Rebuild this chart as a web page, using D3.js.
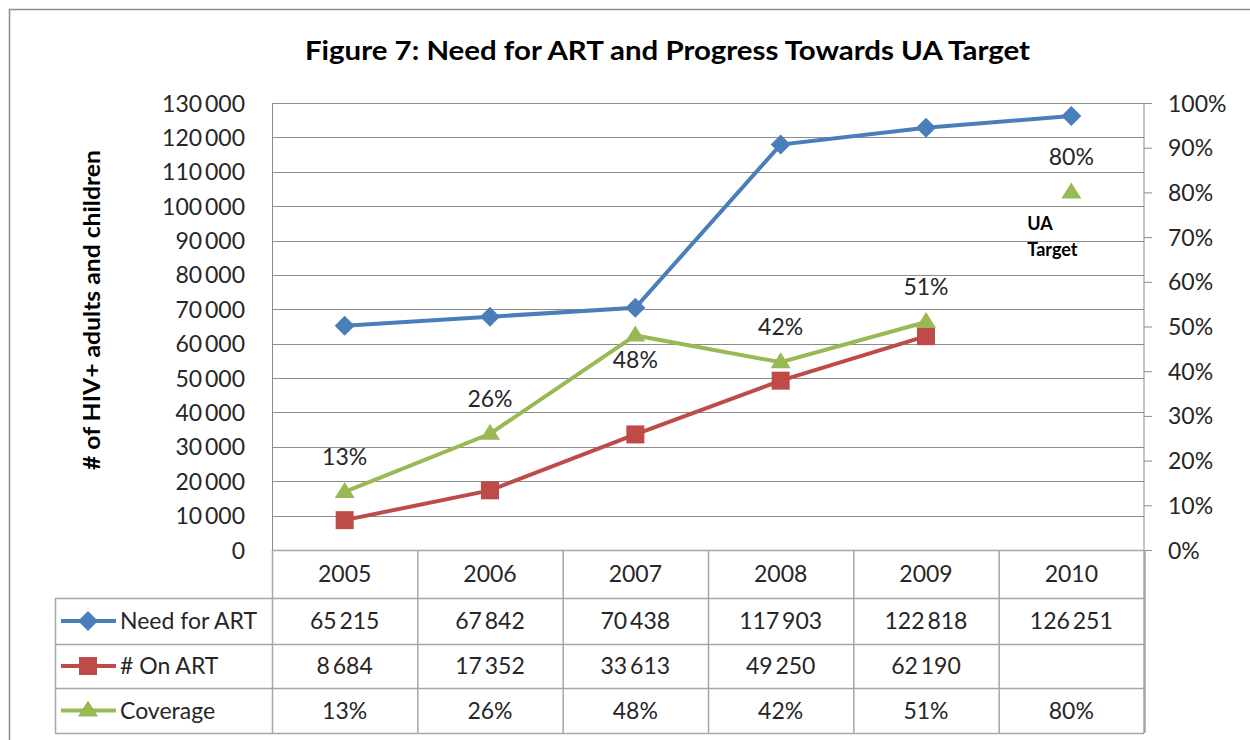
<!DOCTYPE html>
<html>
<head>
<meta charset="utf-8">
<script src="https://cdn.jsdelivr.net/npm/d3@7"></script>
<style>
  body { margin: 0; background: #fff; }
  svg text { font-family: Lato, "Open Sans", sans-serif; fill: #262626; }
</style>
</head>
<body>
<div id="chart"></div>
<script>
// Chart data
const years = ["2005", "2006", "2007", "2008", "2009", "2010"];
const needForArt = [65215, 67842, 70438, 117903, 122818, 126251];
const onArt = [8684, 17352, 33613, 49250, 62190, null];
const coverage = [0.13, 0.26, 0.48, 0.42, 0.51, 0.80];
// 2010 coverage is the UA target, drawn as a lone point
const coverageLinked = [true, true, true, true, true, false];
const coverageLabelSide = ["above", "above", "below", "above", "above", "above"];
const leftTicks = d3.range(0, 130001, 10000);
const rightTicks = d3.range(0, 1.0001, 0.1);

const width = 1250;
const height = 740;
const fontSize = "23px";

const locale = d3.formatLocale({ decimal: ".", thousands: "\u2009", grouping: [3], currency: ["", ""] });
const numFmt = locale.format(",d");
const pctFmt = d3.format(".0%");

const plot = { left: 272, right: 1144, top: 103, bottom: 550 };
const rowH = [48, 46, 44, 45];

const svg = d3.select("#chart").append("svg")
  .attr("width", width)
  .attr("height", height);

// Outer chart frame
svg.append("rect")
  .attr("x", 9.5).attr("y", 9.5)
  .attr("width", width + 20).attr("height", height + 20)
  .attr("fill", "none")
  .attr("stroke", "#8c8c8c")
  .attr("stroke-width", 1.5);

// Title
svg.append("text")
  .attr("x", 305).attr("y", 60)
  .attr("textLength", 725)
  .attr("lengthAdjust", "spacingAndGlyphs")
  .style("font-size", "27px")
  .style("font-weight", "bold")
  .style("fill", "#000")
  .text("Figure 7: Need for ART and Progress Towards UA Target");

const x = d3.scaleBand().domain(years).range([plot.left, plot.right]);
const yLeft = d3.scaleLinear().domain([0, 130000]).range([plot.bottom, plot.top]);
const yRight = d3.scaleLinear().domain([0, 1]).range([plot.bottom, plot.top]);
const cx = (d) => x(d) + x.bandwidth() / 2;

// Gridlines
svg.append("g")
  .selectAll("line")
  .data(leftTicks)
  .enter()
  .append("line")
  .attr("x1", plot.left).attr("x2", plot.right)
  .attr("y1", (d) => Math.round(yLeft(d)) + 0.5)
  .attr("y2", (d) => Math.round(yLeft(d)) + 0.5)
  .attr("stroke", "#8c8c8c")
  .attr("stroke-width", 1);

// Left axis
const leftAxis = svg.append("g")
  .attr("transform", `translate(${plot.left},0)`)
  .call(d3.axisLeft(yLeft).tickValues(leftTicks).tickSize(0).tickPadding(27).tickFormat(numFmt));
leftAxis.select(".domain").attr("stroke", "#8c8c8c");
leftAxis.selectAll("text").style("font-size", fontSize).style("fill", "#262626").attr("dy", "0.35em");

// Right axis
const rightAxis = svg.append("g")
  .attr("transform", `translate(${plot.right},0)`)
  .call(d3.axisRight(yRight).tickValues(rightTicks).tickSize(8).tickPadding(16).tickFormat(pctFmt));
rightAxis.select(".domain").attr("stroke", "#8c8c8c").attr("d", `M0,${plot.top}V${plot.bottom}`);
rightAxis.selectAll(".tick line").attr("stroke", "#8c8c8c");
rightAxis.selectAll("text").style("font-size", fontSize).style("fill", "#262626").attr("dy", "0.35em");

// Y axis title
svg.append("text")
  .attr("transform", "translate(100,310) rotate(-90)")
  .attr("text-anchor", "middle")
  .attr("textLength", 320)
  .attr("lengthAdjust", "spacingAndGlyphs")
  .style("font-size", "22px")
  .style("font-weight", "bold")
  .style("fill", "#000")
  .text("# of HIV+ adults and children");

// Markers
const colors = { need: "#4a7ebb", on: "#be4b48", cov: "#98b954" };
function drawMarker(g, type, color) {
  if (type === "diamond") {
    g.append("path").attr("d", "M0,-10L10,0L0,10L-10,0Z").attr("fill", color);
  } else if (type === "square") {
    g.append("rect").attr("x", -9).attr("y", -9).attr("width", 18).attr("height", 18).attr("fill", color);
  } else {
    g.append("path").attr("d", "M0,-10L10,6L-10,6Z").attr("fill", color);
  }
}

const line = d3.line().x((d) => d.x).y((d) => d.y);

// Need for ART
const needPts = years.map((yr, i) => ({ x: cx(yr), y: yLeft(needForArt[i]) }));
svg.append("path").datum(needPts).attr("d", line)
  .attr("fill", "none").attr("stroke", colors.need).attr("stroke-width", 4);
needPts.forEach((p) => drawMarker(svg.append("g").attr("transform", `translate(${p.x},${p.y})`), "diamond", colors.need));

// On ART
const onPts = years.map((yr, i) => ({ x: cx(yr), y: onArt[i] == null ? null : yLeft(onArt[i]) })).filter((p) => p.y != null);
svg.append("path").datum(onPts).attr("d", line)
  .attr("fill", "none").attr("stroke", colors.on).attr("stroke-width", 4);
onPts.forEach((p) => drawMarker(svg.append("g").attr("transform", `translate(${p.x},${p.y})`), "square", colors.on));

// Coverage
const covPts = years.map((yr, i) => ({ x: cx(yr), y: yRight(coverage[i]), v: coverage[i], linked: coverageLinked[i], side: coverageLabelSide[i] }));
svg.append("path").datum(covPts.filter((p) => p.linked)).attr("d", line)
  .attr("fill", "none").attr("stroke", colors.cov).attr("stroke-width", 4);
covPts.forEach((p) => drawMarker(svg.append("g").attr("transform", `translate(${p.x},${p.y})`), "triangle", colors.cov));

svg.append("g")
  .selectAll("text")
  .data(covPts)
  .enter()
  .append("text")
  .attr("x", (d) => d.x)
  .attr("y", (d) => (d.side === "above" ? d.y - 27 : d.y + 33))
  .attr("text-anchor", "middle")
  .style("font-size", fontSize)
  .text((d) => pctFmt(d.v));

// UA Target note
const target = covPts[covPts.length - 1];
const note = svg.append("text")
  .attr("x", target.x - 44)
  .attr("y", target.y + 38)
  .style("font-size", "18px")
  .style("font-weight", "bold")
  .style("fill", "#000");
note.append("tspan").text("UA");
note.append("tspan").attr("x", target.x - 44).attr("dy", 26).text("Target");

// Data table
const tableGrey = "#a6a6a6";
const rowTop = [plot.bottom];
rowH.forEach((h, i) => rowTop.push(rowTop[i] + h));
const legendLeft = 55;
const table = svg.append("g");

// horizontal lines
[1, 2, 3, 4].forEach((r) => {
  table.append("line")
    .attr("x1", legendLeft).attr("x2", plot.right)
    .attr("y1", rowTop[r] + 0.5).attr("y2", rowTop[r] + 0.5)
    .attr("stroke", tableGrey).attr("stroke-width", 1.5);
});
table.append("line")
  .attr("x1", plot.left).attr("x2", plot.right)
  .attr("y1", rowTop[0] + 0.5).attr("y2", rowTop[0] + 0.5)
  .attr("stroke", tableGrey).attr("stroke-width", 1.5);

// vertical lines
table.selectAll("line.col")
  .data(years.concat(["end"]))
  .enter()
  .append("line")
  .attr("class", "col")
  .attr("x1", (d) => (d === "end" ? plot.right : x(d)) + 0.5)
  .attr("x2", (d) => (d === "end" ? plot.right : x(d)) + 0.5)
  .attr("y1", rowTop[0]).attr("y2", rowTop[4])
  .attr("stroke", tableGrey)
  .attr("stroke-width", (d) => (d === "end" ? 2.5 : 1.5));
table.append("line")
  .attr("x1", legendLeft + 0.5).attr("x2", legendLeft + 0.5)
  .attr("y1", rowTop[1]).attr("y2", rowTop[4])
  .attr("stroke", tableGrey).attr("stroke-width", 1.5);

// header row
table.selectAll("text.year")
  .data(years)
  .enter()
  .append("text")
  .attr("class", "year")
  .attr("x", (d) => cx(d))
  .attr("y", (rowTop[0] + rowTop[1]) / 2)
  .attr("dy", "0.35em")
  .attr("text-anchor", "middle")
  .style("font-size", fontSize)
  .text((d) => d);

const tableRows = [
  { name: "Need for ART", values: needForArt.map((v) => (v == null ? "" : numFmt(v))), marker: "diamond", color: colors.need },
  { name: "# On ART", values: onArt.map((v) => (v == null ? "" : numFmt(v))), marker: "square", color: colors.on },
  { name: "Coverage", values: coverage.map((v) => pctFmt(v)), marker: "triangle", color: colors.cov },
];

tableRows.forEach((row, r) => {
  const midY = (rowTop[r + 1] + rowTop[r + 2]) / 2;
  table.append("line")
    .attr("x1", 61).attr("x2", 116)
    .attr("y1", midY).attr("y2", midY)
    .attr("stroke", row.color).attr("stroke-width", 4);
  drawMarker(table.append("g").attr("transform", `translate(88,${midY})`), row.marker, row.color);
  table.append("text")
    .attr("x", 120).attr("y", midY).attr("dy", "0.35em")
    .style("font-size", fontSize)
    .text(row.name);
  row.values.forEach((v, i) => {
    table.append("text")
      .attr("x", cx(years[i])).attr("y", midY).attr("dy", "0.35em")
      .attr("text-anchor", "middle")
      .style("font-size", fontSize)
      .text(v);
  });
});
</script>
</body>
</html>
